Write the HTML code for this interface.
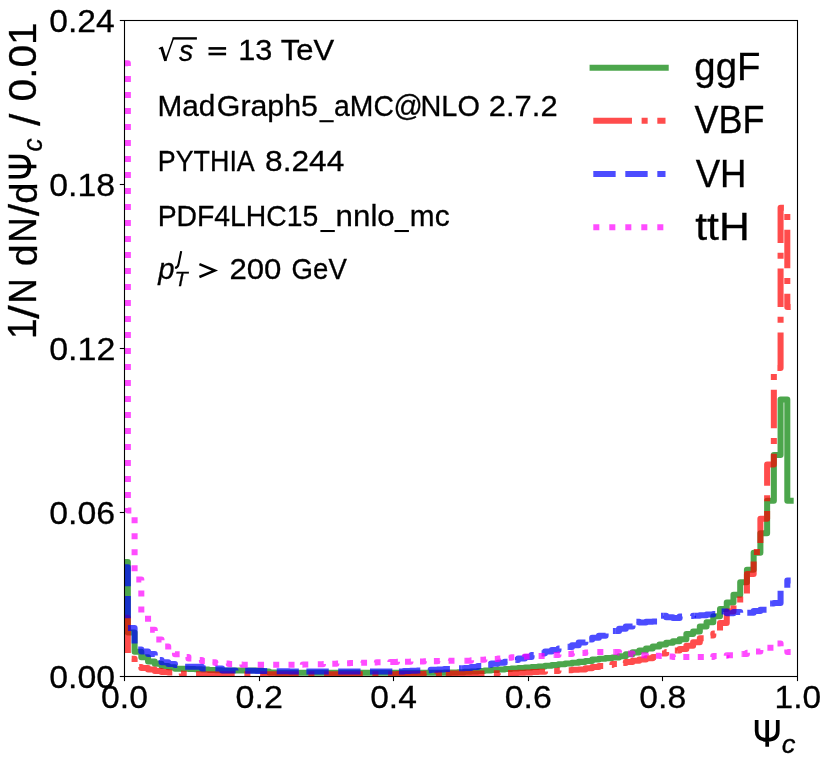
<!DOCTYPE html>
<html><head><meta charset="utf-8"><title>chart</title>
<style>html,body{margin:0;padding:0;background:#fff}svg{display:block}text{font-family:"Liberation Sans",sans-serif;vector-effect:non-scaling-stroke}</style></head>
<body>
<svg width="830" height="763" viewBox="0 0 830 763">
<rect width="830" height="763" fill="#fff"/>
<defs><clipPath id="ax"><rect x="124.5" y="20.2" width="672.90" height="656.20"/></clipPath></defs>
<g clip-path="url(#ax)" fill="none" stroke-width="6.04" stroke-linejoin="round" stroke-opacity="0.7">
<path d="M124.50,562.00L127.86,562.00L127.86,632.60L134.59,632.60L134.59,651.70L141.32,651.70L141.32,657.20L148.05,657.20L148.05,661.40L154.78,661.40L154.78,663.70L161.51,663.70L161.51,666.00L168.24,666.00L168.24,667.30L174.97,667.30L174.97,668.70L181.70,668.70L181.70,668.85L188.43,668.85L188.43,669.00L195.15,669.00L195.15,669.30L201.88,669.30L201.88,669.60L208.61,669.60L208.61,669.90L215.34,669.90L215.34,670.20L222.07,670.20L222.07,670.50L228.80,670.50L228.80,670.50L235.53,670.50L235.53,670.50L242.26,670.50L242.26,670.50L248.99,670.50L248.99,670.50L255.72,670.50L255.72,670.50L262.44,670.50L262.44,671.55L269.17,671.55L269.17,672.60L275.90,672.60L275.90,672.67L282.63,672.67L282.63,672.73L289.36,672.73L289.36,672.80L296.09,672.80L296.09,672.80L302.82,672.80L302.82,672.80L309.55,672.80L309.55,672.80L316.28,672.80L316.28,672.80L323.01,672.80L323.01,672.80L329.73,672.80L329.73,672.80L336.46,672.80L336.46,672.80L343.19,672.80L343.19,672.80L349.92,672.80L349.92,672.80L356.65,672.80L356.65,672.80L363.38,672.80L363.38,672.80L370.11,672.80L370.11,672.80L376.84,672.80L376.84,672.80L383.57,672.80L383.57,672.80L390.30,672.80L390.30,672.80L397.02,672.80L397.02,672.80L403.75,672.80L403.75,672.80L410.48,672.80L410.48,672.80L417.21,672.80L417.21,672.80L423.94,672.80L423.94,672.80L430.67,672.80L430.67,672.80L437.40,672.80L437.40,672.80L444.13,672.80L444.13,672.63L450.86,672.63L450.86,672.47L457.59,672.47L457.59,672.30L464.31,672.30L464.31,671.85L471.04,671.85L471.04,671.40L477.77,671.40L477.77,670.95L484.50,670.95L484.50,670.50L491.23,670.50L491.23,670.05L497.96,670.05L497.96,669.60L504.69,669.60L504.69,669.08L511.42,669.08L511.42,668.57L518.15,668.57L518.15,668.05L524.88,668.05L524.88,667.53L531.60,667.53L531.60,667.02L538.33,667.02L538.33,666.50L545.06,666.50L545.06,665.77L551.79,665.77L551.79,665.05L558.52,665.05L558.52,664.33L565.25,664.33L565.25,663.60L571.98,663.60L571.98,662.73L578.71,662.73L578.71,661.87L585.44,661.87L585.44,661.00L592.17,661.00L592.17,659.50L598.89,659.50L598.89,658.81L605.62,658.81L605.62,658.11L612.35,658.11L612.35,657.42L619.08,657.42L619.08,656.23L625.81,656.23L625.81,654.30L632.54,654.30L632.54,652.36L639.27,652.36L639.27,650.43L646.00,650.43L646.00,648.50L652.73,648.50L652.73,646.50L659.46,646.50L659.46,644.50L666.18,644.50L666.18,642.85L672.91,642.85L672.91,641.20L679.64,641.20L679.64,639.20L686.37,639.20L686.37,634.00L693.10,634.00L693.10,631.40L699.83,631.40L699.83,626.40L706.56,626.40L706.56,622.20L713.29,622.20L713.29,616.30L720.02,616.30L720.02,609.00L726.75,609.00L726.75,602.50L733.47,602.50L733.47,594.80L740.20,594.80L740.20,582.20L746.93,582.20L746.93,569.80L753.66,569.80L753.66,552.70L760.39,552.70L760.39,533.20L767.12,533.20L767.12,500.80L773.85,500.80L773.85,454.90L780.58,454.90L780.58,399.40L787.31,399.40L787.31,500.80L790.67,500.80" stroke="#008000" stroke-linecap="square"/>
<path d="M124.50,617.70L127.86,617.70L127.86,658.80L134.59,658.80L134.59,667.00L141.32,667.00L141.32,668.00L148.05,668.00L148.05,669.50L154.78,669.50L154.78,671.00L161.51,671.00L161.51,672.00L168.24,672.00L168.24,672.60L174.97,672.60L174.97,673.50L181.70,673.50L181.70,673.85L188.43,673.85L188.43,674.20L195.15,674.20L195.15,674.20L201.88,674.20L201.88,674.20L208.61,674.20L208.61,674.20L215.34,674.20L215.34,674.20L222.07,674.20L222.07,674.20L228.80,674.20L228.80,674.20L235.53,674.20L235.53,674.20L242.26,674.20L242.26,674.20L248.99,674.20L248.99,674.20L255.72,674.20L255.72,674.20L262.44,674.20L262.44,674.20L269.17,674.20L269.17,674.20L275.90,674.20L275.90,674.20L282.63,674.20L282.63,674.20L289.36,674.20L289.36,674.20L296.09,674.20L296.09,674.20L302.82,674.20L302.82,674.20L309.55,674.20L309.55,674.20L316.28,674.20L316.28,674.20L323.01,674.20L323.01,674.20L329.73,674.20L329.73,674.20L336.46,674.20L336.46,674.20L343.19,674.20L343.19,674.20L349.92,674.20L349.92,674.20L356.65,674.20L356.65,674.20L363.38,674.20L363.38,674.20L370.11,674.20L370.11,674.20L376.84,674.20L376.84,674.20L383.57,674.20L383.57,674.20L390.30,674.20L390.30,674.20L397.02,674.20L397.02,674.12L403.75,674.12L403.75,674.05L410.48,674.05L410.48,673.98L417.21,673.98L417.21,673.90L423.94,673.90L423.94,673.83L430.67,673.83L430.67,673.75L437.40,673.75L437.40,673.68L444.13,673.68L444.13,673.60L445.80,673.60" stroke="#ff0000" stroke-dasharray="38.66 9.66 6.04 9.66"/>
<path d="M445.80,673.60L450.86,673.60L450.86,673.60L457.59,673.60L457.59,673.60L464.31,673.60L464.31,673.60L471.04,673.60L471.04,673.60L477.77,673.60L477.77,673.60L484.50,673.60L484.50,673.47L491.23,673.47L491.23,673.33L497.96,673.33L497.96,673.20L504.69,673.20L504.69,673.07L508.00,673.07" stroke="#ff0000" stroke-dasharray="38.66 9.66 6.04 9.66"/>
<path d="M508.00,673.07L511.42,673.07L511.42,672.93L518.15,672.93L518.15,672.80L524.88,672.80L524.88,672.42L531.60,672.42L531.60,672.04L538.33,672.04L538.33,671.67L545.06,671.67L545.06,671.29L551.79,671.29L551.79,670.91L558.52,670.91L558.52,670.53L565.25,670.53L565.25,670.16L568.70,670.16" stroke="#ff0000" stroke-dasharray="38.66 9.66 6.04 9.66"/>
<path d="M568.70,670.16L571.98,670.16L571.98,669.78L578.71,669.78L578.71,669.40L585.44,669.40L585.44,668.20L592.17,668.20L592.17,667.00L598.89,667.00L598.89,666.00L605.62,666.00L605.62,665.00L612.35,665.00L612.35,664.00L619.08,664.00L619.08,663.00L623.30,663.00" stroke="#ff0000" stroke-dasharray="38.66 9.66 6.04 9.66"/>
<path d="M623.30,663.00L625.81,663.00L625.81,662.00L632.54,662.00L632.54,660.75L639.27,660.75L639.27,659.50L646.00,659.50L646.00,658.25L652.73,658.25L652.73,657.00L659.46,657.00L659.46,653.40L666.18,653.40L666.18,651.95L672.91,651.95L672.91,650.50L677.30,650.50" stroke="#ff0000" stroke-dasharray="38.66 9.66 6.04 9.66"/>
<path d="M677.30,650.50L679.64,650.50L679.64,649.10L686.37,649.10L686.37,645.80L693.10,645.80L693.10,642.20L699.83,642.20L699.83,638.20L706.56,638.20L706.56,635.50L713.29,635.50L713.29,633.60L720.02,633.60L720.02,630.60" stroke="#ff0000" stroke-dasharray="38.66 9.66 6.04 9.66"/>
<path d="M720.02,630.60L720.02,623.10L726.75,623.10L726.75,611.60L733.47,611.60L733.47,604.00L740.20,604.00L740.20,595.10L746.93,595.10L746.93,573.90L753.66,573.90L753.66,552.10L760.39,552.10L760.39,518.70L767.12,518.70L767.12,464.40L773.85,464.40L773.85,367.90L780.58,367.90L780.58,207.70L787.31,207.70L787.31,306.90L790.67,306.90" stroke="#ff0000" stroke-dasharray="38.66 9.66 6.04 9.66"/>
<path d="M124.50,567.30L127.86,567.30L127.86,627.90L134.59,627.90L134.59,649.60L141.32,649.60L141.32,651.50L148.05,651.50L148.05,654.00L154.78,654.00L154.78,660.00L161.51,660.00L161.51,662.30L168.24,662.30L168.24,664.10L174.97,664.10L174.97,665.00L181.70,665.00L181.70,666.70L188.43,666.70L188.43,666.70L195.15,666.70L195.15,666.70L201.88,666.70L201.88,668.50L208.61,668.50L208.61,668.50L215.34,668.50L215.34,668.50L222.07,668.50L222.07,670.40L228.80,670.40L228.80,670.50L235.53,670.50L235.53,670.60L242.26,670.60L242.26,670.70L248.99,670.70L248.99,670.80L255.72,670.80L255.72,670.90L262.44,670.90L262.44,671.00L269.17,671.00L269.17,671.10L275.90,671.10L275.90,671.20L282.63,671.20L282.63,671.30L289.36,671.30L289.36,671.40L296.09,671.40L296.09,671.40L302.82,671.40L302.82,671.40L306.40,671.40" stroke="#0000ff" stroke-dasharray="22.35 9.66"/>
<path d="M306.40,671.40L309.55,671.40L309.55,671.40L316.28,671.40L316.28,671.40L323.01,671.40L323.01,671.40L329.73,671.40L329.73,671.40L336.46,671.40L336.46,671.40L338.20,671.40" stroke="#0000ff" stroke-dasharray="22.35 9.66"/>
<path d="M338.20,671.40L343.19,671.40L343.19,671.40L349.92,671.40L349.92,671.40L356.65,671.40L356.65,671.40L363.38,671.40L363.38,671.40L370.00,671.40" stroke="#0000ff" stroke-dasharray="22.35 9.66"/>
<path d="M370.00,671.40L370.11,671.40L370.11,671.40L376.84,671.40L376.84,671.40L383.57,671.40L383.57,671.40L390.30,671.40L390.30,671.40L397.02,671.40L397.02,671.40L398.90,671.40" stroke="#0000ff" stroke-dasharray="22.35 9.66"/>
<path d="M398.90,671.40L403.75,671.40L403.75,671.08L410.48,671.08L410.48,670.77L417.21,670.77L417.21,670.45L423.94,670.45L423.94,670.13L428.80,670.13" stroke="#0000ff" stroke-dasharray="22.35 9.66"/>
<path d="M428.80,670.13L430.67,670.13L430.67,669.82L437.40,669.82L437.40,669.50L444.13,669.50L444.13,668.90L450.86,668.90L450.86,668.60L457.59,668.60L457.59,668.30L461.20,668.30" stroke="#0000ff" stroke-dasharray="22.35 9.66"/>
<path d="M461.20,668.30L464.31,668.30L464.31,668.00L471.04,668.00L471.04,667.00L477.77,667.00L477.77,666.00L484.50,666.00L484.50,664.73L488.20,664.73" stroke="#0000ff" stroke-dasharray="22.35 9.66"/>
<path d="M488.20,664.73L491.23,664.73L491.23,663.62L497.96,663.62L497.96,662.66L504.69,662.66L504.69,661.70L511.42,661.70L511.42,659.90L516.10,659.90" stroke="#0000ff" stroke-dasharray="22.35 9.66"/>
<path d="M516.10,659.90L518.15,659.90L518.15,658.40L524.88,658.40L524.88,656.91L531.60,656.91L531.60,655.14L538.33,655.14L538.33,653.37L542.10,653.37" stroke="#0000ff" stroke-dasharray="22.35 9.66"/>
<path d="M542.10,653.37L545.06,653.37L545.06,651.60L551.79,651.60L551.79,650.02L558.52,650.02L558.52,648.45L565.25,648.45L565.25,646.88L568.10,646.88" stroke="#0000ff" stroke-dasharray="22.35 9.66"/>
<path d="M568.10,646.88L571.98,646.88L571.98,645.30L578.71,645.30L578.71,642.40L585.44,642.40L585.44,639.50L589.30,639.50" stroke="#0000ff" stroke-dasharray="22.35 9.66"/>
<path d="M589.30,639.50L592.17,639.50L592.17,637.70L598.89,637.70L598.89,635.70L605.62,635.70L605.62,632.10L612.35,632.10L612.35,631.10L615.80,631.10" stroke="#0000ff" stroke-dasharray="22.35 9.66"/>
<path d="M615.80,631.10L619.08,631.10L619.08,628.80L625.81,628.80L625.81,626.40L632.54,626.40L632.54,621.80L636.40,621.80" stroke="#0000ff" stroke-dasharray="22.35 9.66"/>
<path d="M636.40,621.80L639.27,621.80L639.27,622.50L646.00,622.50L646.00,621.80L652.73,621.80L652.73,621.50L659.46,621.50L659.46,615.80L663.60,615.80" stroke="#0000ff" stroke-dasharray="22.35 9.66"/>
<path d="M663.60,615.80L666.18,615.80L666.18,617.20L672.91,617.20L672.91,618.10L679.64,618.10L679.64,616.50L686.37,616.50L686.37,616.00L693.10,616.00L693.10,615.80L694.70,615.80" stroke="#0000ff" stroke-dasharray="22.35 9.66"/>
<path d="M694.70,615.80L699.83,615.80L699.83,615.20L706.56,615.20L706.56,614.60L713.29,614.60L713.29,614.00L720.02,614.00L720.02,611.50L721.60,611.50" stroke="#0000ff" stroke-dasharray="22.35 9.66"/>
<path d="M721.60,611.50L726.75,611.50L726.75,613.30L733.47,613.30L733.47,612.00L740.20,612.00L740.20,613.20L746.93,613.20L746.93,612.80L747.30,612.80" stroke="#0000ff" stroke-dasharray="22.35 9.66"/>
<path d="M747.30,612.80L753.66,612.80L753.66,610.90L760.39,610.90L760.39,609.70L767.12,609.70L767.12,603.60L771.10,603.60" stroke="#0000ff" stroke-dasharray="22.35 9.66"/>
<path d="M771.10,603.60L773.85,603.60L773.85,603.00L780.58,603.00L780.58,589.50L787.31,589.50L787.31,580.50L790.67,580.50" stroke="#0000ff" stroke-dasharray="22.35 9.66"/>
<path d="M124.50,63.30L127.86,63.30L127.86,510.50L134.59,510.50L134.59,579.50L141.32,579.50L141.32,614.00L148.05,614.00L148.05,629.70L154.78,629.70L154.78,639.50L161.51,639.50L161.51,646.60L168.24,646.60L168.24,650.50L174.97,650.50L174.97,654.20L181.70,654.20L181.70,657.10L188.43,657.10L188.43,658.50L195.15,658.50L195.15,660.00L201.88,660.00L201.88,661.00L208.61,661.00L208.61,662.20L212.50,662.20" stroke="#ff00ff" stroke-dasharray="6.04 9.96"/>
<path d="M212.50,662.20L215.34,662.20L215.34,663.00L222.07,663.00L222.07,663.50L226.60,663.50" stroke="#ff00ff" stroke-dasharray="6.04 9.96"/>
<path d="M226.60,663.50L228.80,663.50L228.80,664.00L235.53,664.00L235.53,664.40L242.10,664.40" stroke="#ff00ff" stroke-dasharray="6.04 9.96"/>
<path d="M242.10,664.40L242.26,664.40L242.26,664.80L248.99,664.80L248.99,664.80L255.72,664.80L255.72,664.80L258.00,664.80" stroke="#ff00ff" stroke-dasharray="6.04 9.96"/>
<path d="M258.00,664.80L262.44,664.80L262.44,664.80L269.17,664.80L269.17,664.80L273.20,664.80" stroke="#ff00ff" stroke-dasharray="6.04 9.96"/>
<path d="M273.20,664.80L275.90,664.80L275.90,664.80L282.63,664.80L282.63,664.80L288.50,664.80" stroke="#ff00ff" stroke-dasharray="6.04 9.96"/>
<path d="M288.50,664.80L289.36,664.80L289.36,664.80L296.09,664.80L296.09,664.64L302.40,664.64" stroke="#ff00ff" stroke-dasharray="6.04 9.96"/>
<path d="M302.40,664.64L302.82,664.64L302.82,664.48L309.55,664.48L309.55,664.32L316.28,664.32L316.28,664.16L317.80,664.16" stroke="#ff00ff" stroke-dasharray="6.04 9.96"/>
<path d="M317.80,664.16L323.01,664.16L323.01,664.00L329.73,664.00L329.73,663.73L332.30,663.73" stroke="#ff00ff" stroke-dasharray="6.04 9.96"/>
<path d="M332.30,663.73L336.46,663.73L336.46,663.47L343.19,663.47L343.19,663.20L347.10,663.20" stroke="#ff00ff" stroke-dasharray="6.04 9.96"/>
<path d="M347.10,663.20L349.92,663.20L349.92,663.03L356.65,663.03L356.65,662.85L361.20,662.85" stroke="#ff00ff" stroke-dasharray="6.04 9.96"/>
<path d="M361.20,662.85L363.38,662.85L363.38,662.67L370.11,662.67L370.11,662.50L374.70,662.50" stroke="#ff00ff" stroke-dasharray="6.04 9.96"/>
<path d="M374.70,662.50L376.84,662.50L376.84,662.33L383.57,662.33L383.57,662.15L390.30,662.15L390.30,661.97L392.00,661.97" stroke="#ff00ff" stroke-dasharray="6.04 9.96"/>
<path d="M392.00,661.97L397.02,661.97L397.02,661.80L403.75,661.80L403.75,661.67L405.00,661.67" stroke="#ff00ff" stroke-dasharray="6.04 9.96"/>
<path d="M405.00,661.67L410.48,661.67L410.48,661.53L417.21,661.53L417.21,661.40L420.00,661.40" stroke="#ff00ff" stroke-dasharray="6.04 9.96"/>
<path d="M420.00,661.40L423.94,661.40L423.94,661.27L430.67,661.27L430.67,661.13L433.90,661.13" stroke="#ff00ff" stroke-dasharray="6.04 9.96"/>
<path d="M433.90,661.13L437.40,661.13L437.40,661.00L444.13,661.00L444.13,660.85L448.60,660.85" stroke="#ff00ff" stroke-dasharray="6.04 9.96"/>
<path d="M448.60,660.85L450.86,660.85L450.86,660.70L457.59,660.70L457.59,660.70L464.31,660.70L464.31,660.70L465.90,660.70" stroke="#ff00ff" stroke-dasharray="6.04 9.96"/>
<path d="M465.90,660.70L471.04,660.70L471.04,660.25L477.77,660.25L477.77,659.80L480.40,659.80" stroke="#ff00ff" stroke-dasharray="6.04 9.96"/>
<path d="M480.40,659.80L484.50,659.80L484.50,659.40L491.23,659.40L491.23,659.00L494.80,659.00" stroke="#ff00ff" stroke-dasharray="6.04 9.96"/>
<path d="M494.80,659.00L497.96,659.00L497.96,658.44L504.69,658.44L504.69,657.73L508.80,657.73" stroke="#ff00ff" stroke-dasharray="6.04 9.96"/>
<path d="M508.80,657.73L511.42,657.73L511.42,657.17L518.15,657.17L518.15,656.85L523.90,656.85" stroke="#ff00ff" stroke-dasharray="6.04 9.96"/>
<path d="M523.90,656.85L524.88,656.85L524.88,656.54L531.60,656.54L531.60,656.22L538.33,656.22L538.33,655.90L538.60,655.90" stroke="#ff00ff" stroke-dasharray="6.04 9.96"/>
<path d="M538.60,655.90L545.06,655.90L545.06,655.42L551.79,655.42L551.79,654.95L554.30,654.95" stroke="#ff00ff" stroke-dasharray="6.04 9.96"/>
<path d="M554.30,654.95L558.52,654.95L558.52,654.48L565.25,654.48L565.25,654.00L568.40,654.00" stroke="#ff00ff" stroke-dasharray="6.04 9.96"/>
<path d="M568.40,654.00L571.98,654.00L571.98,653.50L578.71,653.50L578.71,653.00L582.50,653.00" stroke="#ff00ff" stroke-dasharray="6.04 9.96"/>
<path d="M582.50,653.00L585.44,653.00L585.44,652.50L592.17,652.50L592.17,652.00L597.30,652.00" stroke="#ff00ff" stroke-dasharray="6.04 9.96"/>
<path d="M597.30,652.00L598.89,652.00L598.89,652.00L605.62,652.00L605.62,652.00L612.35,652.00L612.35,652.00L614.30,652.00" stroke="#ff00ff" stroke-dasharray="6.04 9.96"/>
<path d="M614.30,652.00L619.08,652.00L619.08,652.80L625.81,652.80L625.81,653.60L628.10,653.60" stroke="#ff00ff" stroke-dasharray="6.04 9.96"/>
<path d="M628.10,653.60L632.54,653.60L632.54,654.45L639.27,654.45L639.27,655.30L641.40,655.30" stroke="#ff00ff" stroke-dasharray="6.04 9.96"/>
<path d="M641.40,655.30L646.00,655.30L646.00,655.53L652.73,655.53L652.73,655.77L655.90,655.77" stroke="#ff00ff" stroke-dasharray="6.04 9.96"/>
<path d="M655.90,655.77L659.46,655.77L659.46,656.00L666.18,656.00L666.18,656.50L669.60,656.50" stroke="#ff00ff" stroke-dasharray="6.04 9.96"/>
<path d="M669.60,656.50L672.91,656.50L672.91,657.00L679.64,657.00L679.64,657.00L683.30,657.00" stroke="#ff00ff" stroke-dasharray="6.04 9.96"/>
<path d="M683.30,657.00L686.37,657.00L686.37,657.00L693.10,657.00L693.10,657.00L697.80,657.00" stroke="#ff00ff" stroke-dasharray="6.04 9.96"/>
<path d="M697.80,657.00L699.83,657.00L699.83,657.00L706.56,657.00L706.56,657.00L711.60,657.00" stroke="#ff00ff" stroke-dasharray="6.04 9.96"/>
<path d="M711.60,657.00L713.29,657.00L713.29,656.00L720.02,656.00L720.02,655.65L726.75,655.65L726.75,655.30L726.90,655.30" stroke="#ff00ff" stroke-dasharray="6.04 9.96"/>
<path d="M726.90,655.30L733.47,655.30L733.47,654.65L740.20,654.65L740.20,654.00L742.70,654.00" stroke="#ff00ff" stroke-dasharray="6.04 9.96"/>
<path d="M742.70,654.00L746.93,654.00L746.93,652.80L753.66,652.80L753.66,651.60L756.00,651.60" stroke="#ff00ff" stroke-dasharray="6.04 9.96"/>
<path d="M756.00,651.60L760.39,651.60L760.39,649.65L767.12,649.65L767.12,647.70L767.40,647.70" stroke="#ff00ff" stroke-dasharray="6.04 9.96"/>
<path d="M767.40,647.70L773.85,647.70L773.85,643.40L777.50,643.40" stroke="#ff00ff" stroke-dasharray="6.04 9.96"/>
<path d="M777.50,643.40L780.58,643.40L780.58,647.00L787.31,647.00L787.31,652.00L790.67,652.00" stroke="#ff00ff" stroke-dasharray="6.04 9.96"/>
</g>
<g stroke="#000" stroke-width="1.1" fill="none">
<rect x="124.5" y="20.5" width="673.00" height="656.00"/>
<path d="M124.5,676.5H119.8"/>
<path d="M124.5,512.5H119.8"/>
<path d="M124.5,348.5H119.8"/>
<path d="M124.5,184.5H119.8"/>
<path d="M124.5,20.5H119.8"/>
<path d="M124.5,676.5V681.1"/>
<path d="M259.5,676.5V681.1"/>
<path d="M393.5,676.5V681.1"/>
<path d="M528.5,676.5V681.1"/>
<path d="M662.5,676.5V681.1"/>
<path d="M797.5,676.5V681.1"/>
</g>
<g fill="none" stroke-width="6.04" stroke-opacity="0.7">
<path d="M592.6,67.7H665.7" stroke="#008000" stroke-linecap="square"/>
<path d="M593.3,120.8H665.5" stroke="#ff0000" stroke-dasharray="38.66 9.66 6.04 9.66"/>
<path d="M593.3,173.9H665.5" stroke="#0000ff" stroke-dasharray="22.35 9.66"/>
<path d="M593.3,227.2H665.5" stroke="#ff00ff" stroke-dasharray="6.04 9.96"/>
</g>
<g fill="none" stroke="#000">
<path d="M158.9,48.9 L162.0,47.3" stroke-width="1.4"/>
<path d="M161.4,47.0 L165.6,60.9" stroke-width="2.9"/>
<path d="M165.4,61.0 L173.3,38.4" stroke-width="1.5"/>
<path d="M172.6,38.4 H196.9" stroke-width="2.4"/>
<path d="M199.4,264.1 L214.8,270.55 L199.4,277.0" stroke-width="2.5" stroke-linejoin="miter" stroke-miterlimit="10"/>
<path d="M181.2,251.1 L178.5,264.2 Q177.7,267.9 174.9,267.8" stroke-width="2.1"/>
</g>
<g transform="translate(754.8,720)"><path d="M12.4,0V26.7M1.85,0V11C1.85,17.5 6.2,19.9 12.4,19.9C18.6,19.9 22.95,17.5 22.95,11V0" fill="none" stroke="#000" stroke-width="3.7"/></g>
<g transform="rotate(-90) translate(-178.5,8.6) scale(0.96,1.041)"><path d="M12.4,0V26.7M1.85,0V11C1.85,17.5 6.2,19.9 12.4,19.9C18.6,19.9 22.95,17.5 22.95,11V0" fill="none" stroke="#000" stroke-width="3.7"/></g>
<g fill="#000">
<rect x="208.5" y="47.1" width="17.6" height="2.6"/><rect x="208.5" y="52.7" width="17.6" height="2.6"/>
<rect x="319.4" y="120.2" width="14.3" height="2.05"/>
<rect x="320.4" y="230.0" width="14.4" height="2.05"/><rect x="394.5" y="230.0" width="14.4" height="2.05"/>
</g>
<g font-family="'Liberation Sans', sans-serif" font-size="100" fill="#000" stroke="#000" stroke-width="0.3" vector-effect="non-scaling-stroke" style="filter:grayscale(1)">
<text transform="translate(49.19,32.08) scale(0.3365,0.3190)">0.24</text>
<text transform="translate(49.19,196.13) scale(0.3383,0.3190)">0.18</text>
<text transform="translate(49.18,360.18) scale(0.3401,0.3190)">0.12</text>
<text transform="translate(49.19,524.23) scale(0.3383,0.3190)">0.06</text>
<text transform="translate(49.19,688.28) scale(0.3383,0.3190)">0.00</text>
<text transform="translate(100.98,708.19) scale(0.3384,0.3141)">0.0</text>
<text transform="translate(235.56,708.19) scale(0.3409,0.3141)">0.2</text>
<text transform="translate(370.15,708.19) scale(0.3358,0.3141)">0.4</text>
<text transform="translate(504.72,708.19) scale(0.3384,0.3141)">0.6</text>
<text transform="translate(639.30,708.19) scale(0.3384,0.3141)">0.8</text>
<text transform="translate(774.56,708.19) scale(0.3349,0.3141)">1.0</text>
<text transform="translate(781.78,752.63) scale(0.2739,0.2655)" font-style="italic">c</text>
<text transform="rotate(-90) translate(-338.89,36.40) scale(0.3705,0.3986)">1</text>
<text transform="rotate(-90) translate(-318.70,39.38) scale(0.4893,0.4203)">/</text>
<text transform="rotate(-90) translate(-303.39,36.40) scale(0.3491,0.3957)">N</text>
<text transform="rotate(-90) translate(-266.17,36.51) scale(0.3935,0.3865)">d</text>
<text transform="rotate(-90) translate(-242.71,36.40) scale(0.3509,0.3957)">N</text>
<text transform="rotate(-90) translate(-216.10,39.38) scale(0.4321,0.4203)">/</text>
<text transform="rotate(-90) translate(-203.63,36.51) scale(0.3826,0.3865)">d</text>
<text transform="rotate(-90) translate(-151.39,42.42) scale(0.2630,0.2764)" font-style="italic">c</text>
<text transform="rotate(-90) translate(-125.80,39.58) scale(0.4321,0.4230)">/</text>
<text transform="rotate(-90) translate(-101.42,36.21) scale(0.4059,0.3930)">0.01</text>
<text transform="translate(694.37,80.30) scale(0.3837,0.3797)">ggF</text>
<text transform="translate(694.40,133.40) scale(0.3600,0.3826)">VBF</text>
<text transform="translate(695.70,186.50) scale(0.3660,0.3797)">VH</text>
<text transform="translate(695.27,239.60) scale(0.4265,0.3797)">ttH</text>
<text transform="translate(179.10,60.61) scale(0.2854,0.2927)" font-style="italic">s</text>
<text transform="translate(238.26,60.21) scale(0.3061,0.2901)">13</text>
<text transform="translate(280.68,60.21) scale(0.3106,0.2900)">TeV</text>
<text transform="translate(157.52,115.70) scale(0.2974,0.2942)">Mad</text>
<text transform="translate(216.78,115.70) scale(0.3035,0.2942)">Graph5</text>
<text transform="translate(334.07,115.70) scale(0.2835,0.2942)">aMC</text>
<text transform="translate(393.48,115.70) scale(0.2884,0.2942)">@</text>
<text transform="translate(420.49,115.70) scale(0.2889,0.2942)">NLO</text>
<text transform="translate(488.85,115.70) scale(0.3092,0.2942)">2.7.2</text>
<text transform="translate(157.75,170.50) scale(0.2688,0.2942)">PYTHIA</text>
<text transform="translate(265.03,170.50) scale(0.3169,0.2942)">8.244</text>
<text transform="translate(157.63,225.50) scale(0.2836,0.2942)">PDF4LHC15</text>
<text transform="translate(335.62,225.50) scale(0.3126,0.2942)">nnlo</text>
<text transform="translate(409.81,225.50) scale(0.2985,0.2942)">mc</text>
<text transform="translate(158.18,278.57) scale(0.2929,0.2920)" font-style="italic">p</text>
<text transform="translate(174.38,286.39) scale(0.2153,0.2086)" font-style="italic">T</text>
<text transform="translate(229.44,279.11) scale(0.3116,0.2915)">200</text>
<text transform="translate(291.62,279.11) scale(0.2758,0.2915)">GeV</text>
</g></svg>
</body></html>
